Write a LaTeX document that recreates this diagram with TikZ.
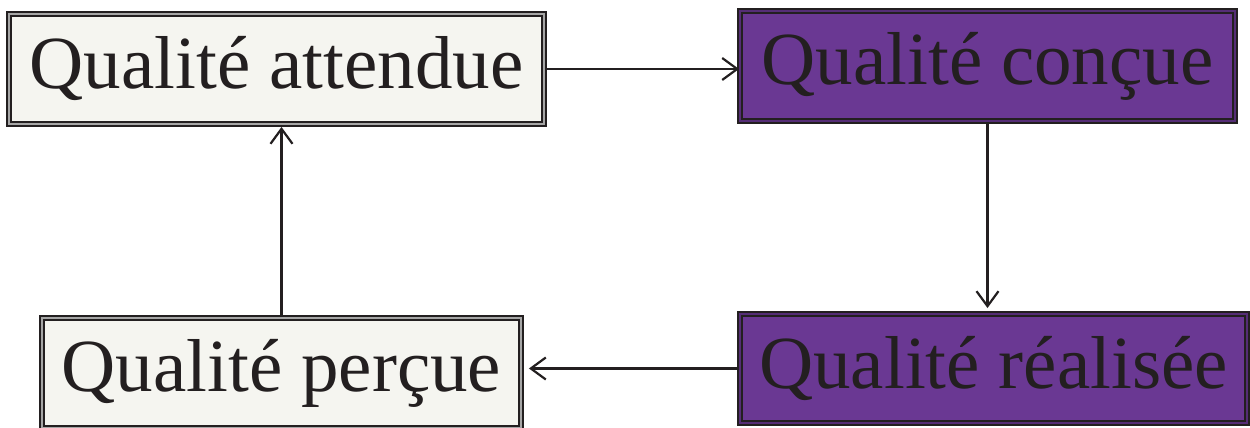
\documentclass[tikz,border=0pt]{standalone}
\usepackage{fontspec}
\setmainfont{Liberation Serif}
\usetikzlibrary{arrows.meta}
\definecolor{paper}{RGB}{245,245,240}
\definecolor{violet}{RGB}{106,56,147}
\definecolor{ink}{RGB}{35,31,32}
\tikzset{
  box/.style={draw=ink,line width=1.9pt,double distance=1.4pt,inner sep=0pt,
    font=\fontsize{75}{80}\selectfont,text=ink},
  light/.style={box,fill=paper,double=gray!70},
  dark/.style={box,fill=violet,double=violet!80!black},
}
\begin{document}
\begin{tikzpicture}[x=1pt,y=1pt]
      \useasboundingbox (0,0) rectangle (1250,428);
      \draw
        (276.5,359) node[light,minimum width=535,minimum height=110] (a){Qualité attendue}
        (987.5,362) node[dark,minimum width=495,minimum height=110] (c){Qualité conçue}
        (993.5,59.5) node[dark,minimum width=507,minimum height=109] (r){Qualité réalisée}
        (281.5,55) node[light,minimum width=479,minimum height=110] (p){Qualité perçue};
      \begin{scope}[-{Straight Barb[length=15,width=22,line width=2.2pt]},draw=ink,line width=2.2pt]
        \draw (a.east) to (a.east -| c.west);
        \draw[shorten >=5] (c.south) to (c.south |- r.north);
        \draw[shorten >=7] (r.west) to (r.west -| p.east);
        \draw[shorten >=2] (p.north) to (p.north |- a.south);
      \end{scope}
    \end{tikzpicture}
\end{document}
